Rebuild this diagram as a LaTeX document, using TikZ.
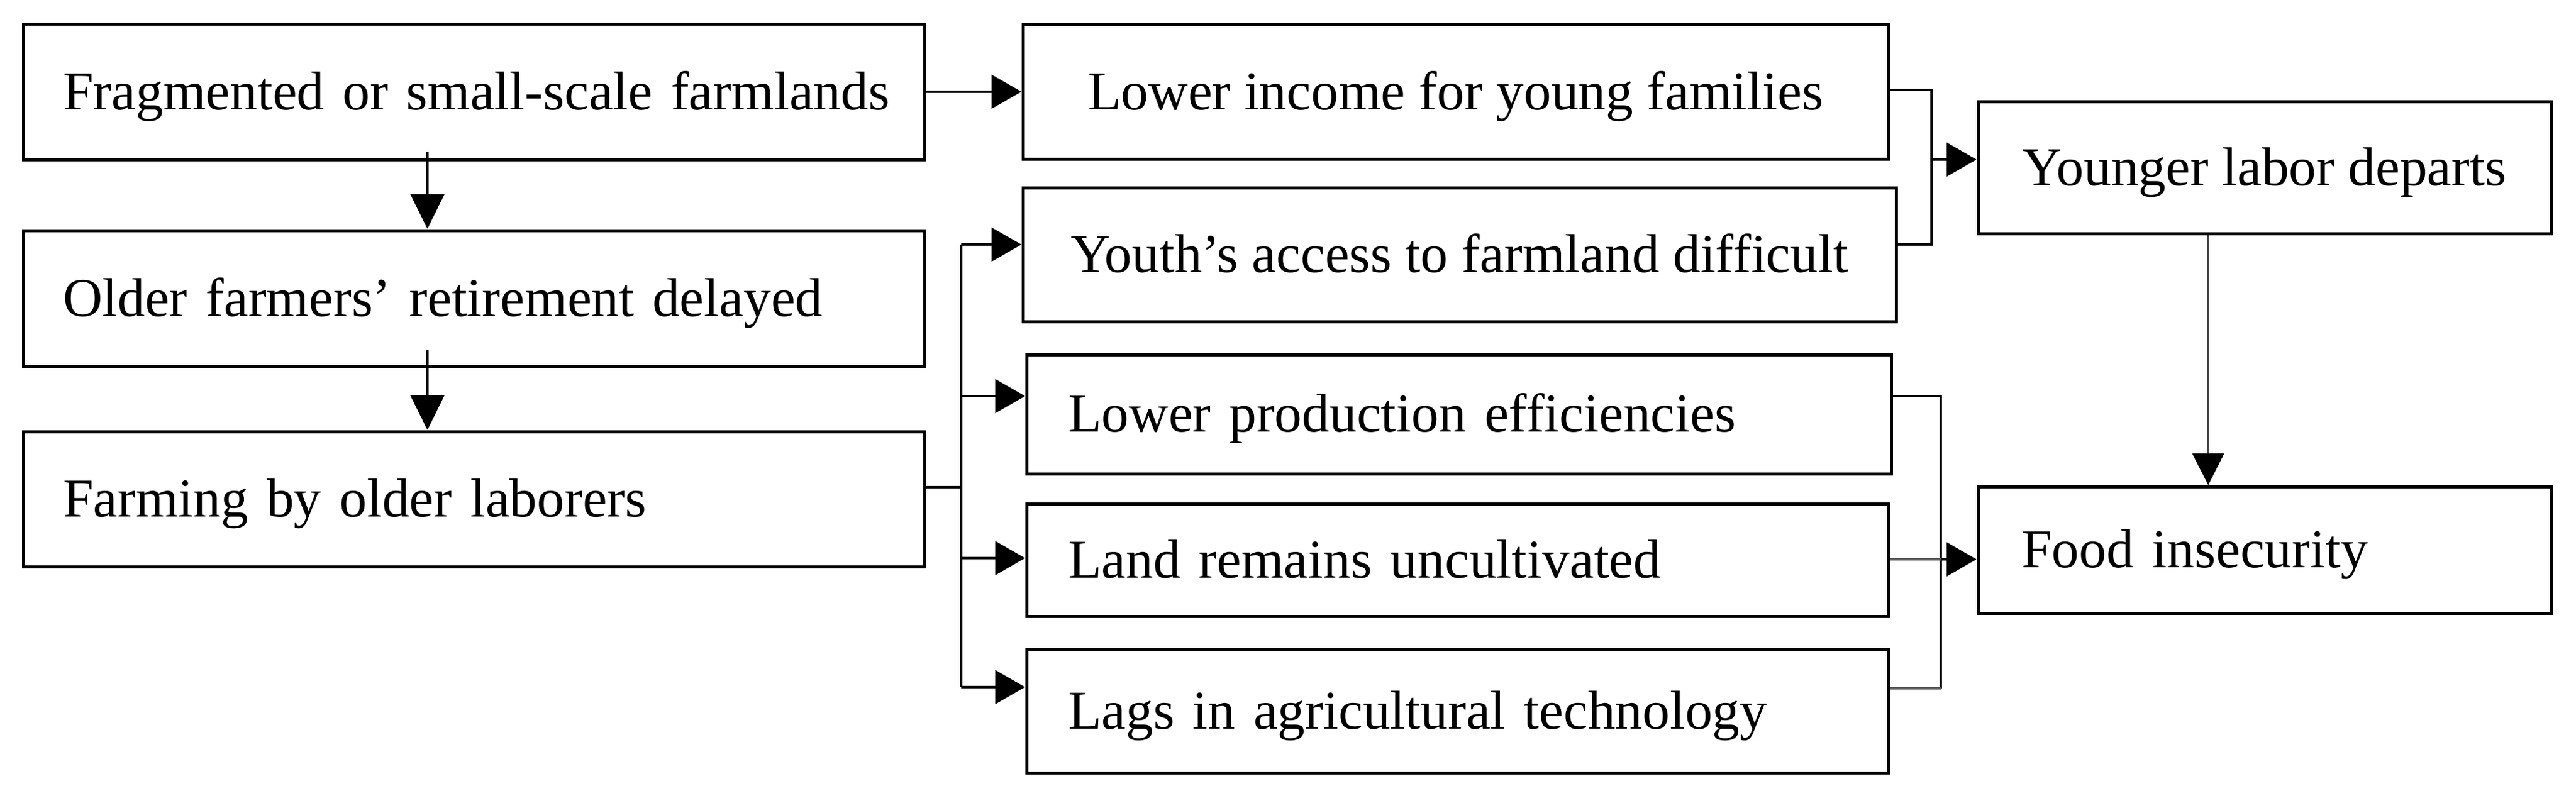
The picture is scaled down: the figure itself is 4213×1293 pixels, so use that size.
\documentclass[tikz,border=0pt]{standalone}
\usepackage{fontspec}
\setmainfont{Liberation Serif}
\usetikzlibrary{arrows.meta}
\begin{document}
\begin{tikzpicture}[x=1pt,y=-1pt,
  bx/.style={draw, line width=5pt, rectangle, inner ysep=0pt,
    font=\fontsize{89.5pt}{107pt}\selectfont, text height=58.6pt, text depth=0pt},
  lbox/.style 2 args={bx, inner xsep=#2, text width=#1-2*#2, align=left},
  cbox/.style={bx, inner xsep=0pt, align=center},
  ln/.style={line width=4.6pt},
  arr/.style={ln, -{Triangle[length=49pt,width=55pt]}},
  darr/.style={line width=4.3pt, -{Triangle[length=57pt,width=55pt]}},
  garr/.style={line width=3pt, black!70, -{Triangle[length=52pt,width=52pt,color=black]}}
]
\useasboundingbox (0,0) rectangle (4213,1293);

\node[lbox={1474pt}{65pt}, minimum height=222pt] (n1) at (775,150) {\mbox{Fragmented or small-scale farmlands}};
\node[lbox={1474pt}{65pt}, minimum height=222pt] (n2) at (775,488) {\mbox{Older farmers’ retirement delayed}};
\node[lbox={1474pt}{65pt}, minimum height=221pt] (n3) at (775,816.5) {\mbox{Farming by older laborers}};

\node[cbox, minimum width=1415pt, minimum height=220pt] (n4) at (2380.5,150) {Lower income for young families};
\node[cbox, minimum width=1428pt, minimum height=219pt] (n5) at (2387,416.5) {Youth’s access to farmland difficult};
\node[lbox={1414pt}{68pt}, minimum height=195pt] (n8) at (2386,677.5) {\mbox{Lower production efficiencies}};
\node[lbox={1409pt}{68pt}, minimum height=184pt] (n9) at (2383.5,916) {\mbox{Land remains uncultivated}};
\node[lbox={1409pt}{68pt}, minimum height=202pt] (n10) at (2383.5,1163) {\mbox{Lags in agricultural technology}};

\node[cbox, minimum width=937pt, minimum height=216pt] (n6) at (3703.5,274) {Younger labor departs};
\node[lbox={937pt}{71pt}, minimum height=207pt] (n7) at (3703.5,899.5) {\mbox{Food insecurity}};

\coordinate (ta) at (1572,400);
\coordinate (tb) at (1572,1124);
\coordinate (ra) at (3159,147);
\coordinate (rb) at (3159,400);
\coordinate (sa) at (3174,648);
\coordinate (sb) at (3174,1126);

% left column
\draw[arr] (n1.east) -- (n4.west);
\draw[darr] ([xshift=-76pt,yshift=16pt]n1.south) -- ([xshift=-76pt]n2.north);
\draw[darr] ([xshift=-76pt,yshift=29pt]n2.south) -- ([xshift=-76pt]n3.north);

% trunk from n3
\draw[ln] ([yshift=19.5pt]n3.east) -- ([yshift=19.5pt]n3.east -| ta);
\draw[ln] (ta) -- (tb);
\draw[arr] (ta) -- (ta -| n5.west);
\draw[arr] ([yshift=29.5pt]n8.west -| ta) -- ([yshift=29.5pt]n8.west);
\draw[arr] ([yshift=3pt]n9.west -| ta) -- ([yshift=3pt]n9.west);
\draw[arr] (tb) -- (tb -| n10.west);

% upper bracket
\draw[ln] (n4.east |- ra) -- (ra) -- (rb) -- (n5.east |- rb);
\draw[arr] ([yshift=13pt]n6.west -| ra) -- ([yshift=13pt]n6.west);

% n6 -> n7
\draw[garr] ([xshift=-92pt]n6.south) -- ([xshift=-92pt]n7.north);

% lower bracket
\draw[ln] (n8.east |- sa) -- (sa) -- (sb);
\draw[ln, black!65] (sb) -- (n10.east |- sb);
\draw[ln, black!65] ([yshift=1pt]n9.east) -- ([yshift=1pt]n9.east -| sa);
\draw[arr] ([yshift=1pt]n9.east -| sa) -- ([yshift=1pt]n9.east -| n7.west);
\end{tikzpicture}
\end{document}
